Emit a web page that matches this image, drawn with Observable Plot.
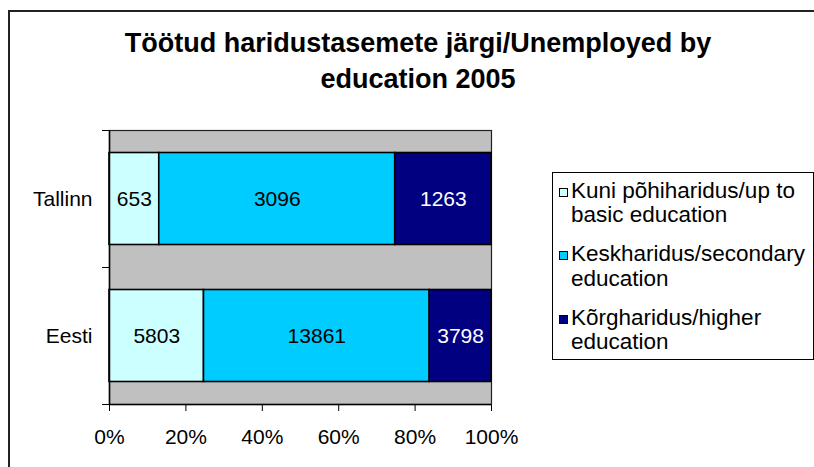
<!DOCTYPE html>
<html>
<head>
<meta charset="utf-8">
<script src="https://cdn.jsdelivr.net/npm/d3@7"></script>
<script src="https://cdn.jsdelivr.net/npm/@observablehq/plot@0.6"></script>
<style>
  body { margin: 0; background: #fff; }
  #wrap { position: relative; width: 814px; height: 467px; overflow: hidden; font-family: Arial, "Liberation Sans", sans-serif; color: #000; }
  #border { position: absolute; left: 8px; top: 10px; width: 900px; height: 600px; border: 2px solid #222; box-sizing: border-box; }
  #title { position: absolute; left: 0; top: 25px; width: 836px; text-align: center; font-weight: bold; font-size: 27px; line-height: 36px; }
  #chart { position: absolute; left: 0; top: 120px; }
  #legend { position: absolute; left: 552px; top: 172px; width: 262px; height: 188px; border: 1px solid #000; box-sizing: border-box; font-size: 22.5px; }
  .entry { position: absolute; left: 0; width: 258px; }
  .sw { position: absolute; left: 6px; top: 9.4px; width: 9px; height: 9px; border: 1px solid #000; box-sizing: border-box; }
  .lbl { margin-left: 18px; width: 240px; line-height: 24.7px; }
</style>
</head>
<body>
<div id="wrap">
  <div id="border"></div>
  <div id="title">Töötud haridustasemete järgi/Unemployed by<br>education 2005</div>
  <div id="chart"></div>
  <div id="legend"></div>
</div>
<script>
const categories = ["Tallinn", "Eesti"];
const series = [
  "Kuni põhiharidus/up to basic education",
  "Keskharidus/secondary education",
  "Kõrgharidus/higher education"
];
const tallinnValues = [653, 3096, 1263];
const eestiValues = [5803, 13861, 3798];
const seriesColors = ["#CCFFFF", "#00CCFF", "#000080"];
const labelColors = ["#000", "#000", "#fff"];
const xTicks = [0, 0.2, 0.4, 0.6, 0.8, 1];
const yBounds = [0, 1, 2];

const valuesByCategory = [tallinnValues, eestiValues];
const rows = [];
categories.forEach((cat, ci) => {
  const vals = valuesByCategory[ci];
  const total = d3.sum(vals);
  let acc = 0;
  vals.forEach((v, si) => {
    rows.push({category: cat, ci, series: series[si], si, value: v, x1: acc / total, x2: (acc + v) / total});
    acc += v;
  });
});

const plot = Plot.plot({
  width: 520,
  height: 340,
  marginLeft: 109,
  marginRight: 29,
  marginTop: 10,
  marginBottom: 56,
  style: {fontSize: "21px", fontFamily: "Arial, 'Liberation Sans', sans-serif", color: "#000", background: "transparent"},
  x: {domain: [0, 1], ticks: xTicks, tickFormat: d3.format(".0%"), tickSize: 7, tickPadding: 18, label: null},
  y: {domain: [0, 2], reverse: true, ticks: yBounds, tickSize: 7, tickFormat: () => "", label: null},
  color: {domain: series, range: seriesColors},
  marks: [
    Plot.frame({fill: "#C0C0C0", stroke: "#222", strokeWidth: 1.2}),
    Plot.rect(rows, {x1: "x1", x2: "x2", y1: d => d.ci, y2: d => d.ci + 1, insetTop: 22.5, insetBottom: 22.5, fill: "series", stroke: "#000", strokeWidth: 1.6}),
    Plot.text(rows.filter(d => labelColors[d.si] === "#000"), {x: d => (d.x1 + d.x2) / 2, y: d => d.ci + 0.5, text: d => String(d.value), fill: "#000", fontSize: 21}),
    Plot.text(rows.filter(d => labelColors[d.si] === "#fff"), {x: d => (d.x1 + d.x2) / 2, y: d => d.ci + 0.5, text: d => String(d.value), fill: "#fff", fontSize: 21}),
    Plot.text(categories, {x: 0, y: (d, i) => i + 0.5, text: d => d, textAnchor: "end", dx: -17, fill: "#000", fontSize: 21}),
    Plot.ruleX([0], {stroke: "#000", strokeWidth: 1.5}),
    Plot.ruleY([2], {stroke: "#000", strokeWidth: 1.5})
  ]
});
document.getElementById("chart").appendChild(plot);

const legend = document.getElementById("legend");
const entryTops = [5.6, 69.1, 132.6];
series.forEach((s, i) => {
  const e = document.createElement("div");
  e.className = "entry";
  e.style.top = entryTops[i] + "px";
  const sw = document.createElement("div");
  sw.className = "sw";
  sw.style.background = seriesColors[i];
  const lbl = document.createElement("div");
  lbl.className = "lbl";
  lbl.textContent = s;
  e.appendChild(sw);
  e.appendChild(lbl);
  legend.appendChild(e);
});
</script>
</body>
</html>
